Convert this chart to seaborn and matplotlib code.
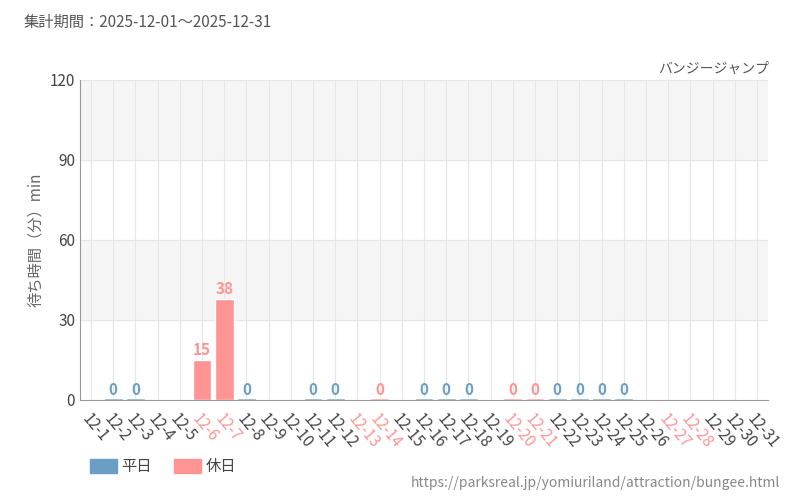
import numpy as np
import pandas as pd
import matplotlib.pyplot as plt
import seaborn as sns

days = [f"12-{d}" for d in range(1, 32)]
waits = [np.nan, 0, 0, np.nan, np.nan, 15, 38, 0, np.nan, np.nan, 0, 0, np.nan, 0,
         np.nan, 0, 0, 0, np.nan, 0, 0, 0, 0, 0, 0, np.nan, np.nan, np.nan, np.nan, np.nan, np.nan]
holidays = [6, 7, 13, 14, 20, 21, 27, 28]
kind = ["休日" if d in holidays else "平日" for d in range(1, 32)]

blue, red = "#6a9ec5", "#ff9494"
sns.set_style("white")
plt.rcParams['font.family'] = ['Noto Sans CJK JP', 'DejaVu Sans']

df = pd.DataFrame({"day": days, "wait": waits, "kind": kind})
fig = plt.figure(figsize=(8, 5), dpi=100)
ax = fig.add_axes([0.1, 0.2, 0.86, 0.64])
for lo in (30, 90):
    ax.axhspan(lo, lo + 30, color="#f5f5f5", zorder=0)
for i in range(len(days)):
    ax.axvline(i, color="#e6e6e6", lw=0.8, zorder=0)
for y in (30, 60, 90, 120):
    ax.axhline(y, color="#e6e6e6", lw=0.8, zorder=0)

sns.barplot(data=df, x="day", y="wait", hue="kind", palette={"平日": blue, "休日": red},
            hue_order=["平日", "休日"], dodge=False, width=0.85, saturation=1,
            ax=ax, zorder=2, legend=False)
for i, (w, k) in enumerate(zip(waits, kind)):
    if not np.isnan(w):
        c = red if k == "休日" else blue
        if w == 0:
            ax.bar(i, 0.6, width=0.85, color=c, zorder=2)
        ax.text(i, w + 0.8, f"{int(w)}", ha="center", va="bottom", color=c,
                fontsize=11, fontweight="bold", fontstretch="condensed")

ax.set_ylim(0, 120)
ax.set_xlim(-0.5, 30.5)
ax.set_yticks([0, 30, 60, 90, 120])
ax.tick_params(axis="y", labelsize=11, colors="#444444", length=0)
ax.set_xticks(range(len(days)))
ax.set_xticklabels(days, rotation=-50, ha="left", rotation_mode="anchor", fontsize=11)
for lab, k in zip(ax.get_xticklabels(), kind):
    lab.set_color(red if k == "休日" else "#444444")
ax.tick_params(axis="x", length=4, color="#999999")
ax.set_xlabel("")
ax.set_ylabel("待ち時間（分）min", fontsize=11, color="#666666")
for s in ("top", "right"):
    ax.spines[s].set_visible(False)
ax.spines["left"].set_color("#999999")
ax.spines["bottom"].set_color("#999999")

fig.text(0.03, 0.955, "集計期間：2025-12-01～2025-12-31", fontsize=11, color="#555555", va="center")
fig.text(0.962, 0.862, "バンジージャンプ", fontsize=10, color="#555555", ha="right", va="center")
fig.patches.append(plt.Rectangle((0.113, 0.055), 0.033, 0.028, color=blue, transform=fig.transFigure))
fig.text(0.152, 0.068, "平日", fontsize=11, color="#444444", va="center")
fig.patches.append(plt.Rectangle((0.218, 0.055), 0.033, 0.028, color=red, transform=fig.transFigure))
fig.text(0.257, 0.068, "休日", fontsize=11, color="#444444", va="center")
fig.text(0.975, 0.035, "https://parksreal.jp/yomiuriland/attraction/bungee.html", fontsize=10,
         color="#888888", ha="right", va="center")
fig.savefig("out.png", dpi=100)
